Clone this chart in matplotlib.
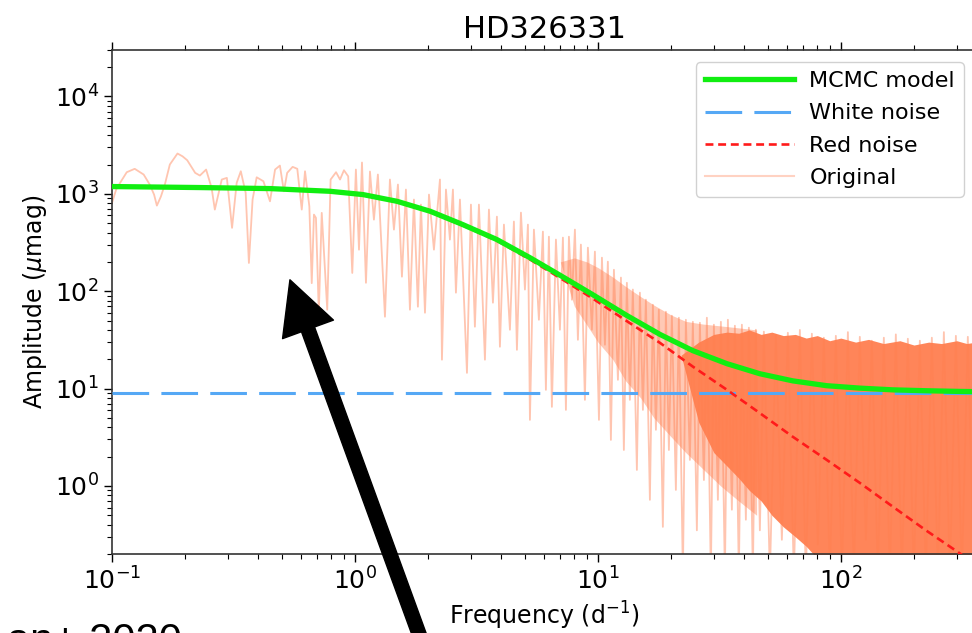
"""HD326331 振幅谱与红噪声拟合"""

import matplotlib
matplotlib.use("Agg")
from matplotlib import pyplot as plt

plt.rcParams['font.family'] = ['DejaVu Sans']
plt.rcParams['mathtext.fontset'] = 'dejavusans'

TITLE = "HD326331"
CREDIT = "an+ 2020"

# 原始振幅谱 (频率 d^-1, 振幅 μmag)，从图上读取的峰和谷
orig_freq = [
    0.100, 0.104, 0.108, 0.115, 0.124, 0.135, 0.143, 0.149, 0.153, 0.159,
    0.165, 0.173, 0.186, 0.195, 0.204, 0.220, 0.230, 0.244, 0.257, 0.265,
    0.283, 0.297, 0.312, 0.326, 0.339, 0.355, 0.366, 0.379, 0.394, 0.420,
    0.447, 0.469, 0.491, 0.510, 0.526, 0.554, 0.579, 0.604, 0.623, 0.649,
    0.664, 0.678, 0.691, 0.710, 0.730, 0.769, 0.794, 0.836, 0.868, 0.901,
    0.938, 0.975, 1.009,
    1.039, 1.069, 1.110, 1.153, 1.197, 1.243, 1.329, 1.393, 1.447, 1.503,
    1.561, 1.621, 1.684, 1.749, 1.816, 1.869, 1.942, 2.017, 2.114, 2.238,
    2.281, 2.369, 2.460, 2.531, 2.604, 2.705, 2.891, 3.002, 3.117, 3.238,
    3.428, 3.560, 3.698, 3.840, 3.951, 4.104, 4.344, 4.511, 4.642, 4.822,
    5.008, 5.152, 5.251, 5.453, 5.717, 5.938, 6.109, 6.285, 6.466, 6.718,
    6.978, 7.178, 7.385, 7.598, 7.816, 8.042, 8.274, 8.511, 8.842, 9.095,
    9.448, 9.720, 10.10, 10.39, 10.69, 10.99, 11.31, 11.64, 12.09, 12.44,
    12.79, 13.16, 13.54, 13.93, 14.47, 14.89, 15.32, 15.76, 16.37, 16.84,
    17.33, 17.82, 18.51, 19.05, 19.60, 20.16, 20.94, 21.54, 22.38, 23.02,
    23.91, 24.60, 25.55, 26.29, 27.31, 28.09, 29.17, 30.02, 31.18, 32.08,
    33.32, 34.28, 35.60, 36.63, 38.04, 39.14, 40.65, 41.82, 43.44, 44.69,
    46.42, 48.21, 51.04, 54.02, 57.18, 60.52, 64.07, 67.81, 71.78, 75.98,
    80.40, 85.11, 90.09, 95.37, 101.0, 106.9, 113.1, 119.7, 126.8, 134.1,
    142.0, 150.3, 159.1, 168.4, 178.3, 188.7, 199.7, 211.4, 223.8, 236.9,
    250.8, 265.5, 281.0, 297.5, 314.8, 333.2, 352.7, 360.0,
]
orig_amp = [
    807, 1106, 1298, 1667, 1807, 1578, 1245, 982, 757, 940,
    1245, 2000, 2594, 2430, 2213, 1641, 1541, 1775, 1151, 689,
    1402, 1458, 447, 1298, 1706, 1023, 195, 873, 1479, 1346,
    838, 1775, 1950, 1062, 1641, 1892, 1807, 689, 1706, 745,
    121, 612, 566, 59.7, 637, 64.6, 1402, 1667, 1402, 1746,
    1514, 154, 1775,
    267, 2096, 122, 1694, 543, 1578, 54.7, 1402, 429, 1245,
    141, 1106, 64.6, 873, 69.3, 775, 60.1, 982, 267, 1402,
    19.8, 1106, 339, 1106, 96.6, 873, 14.5, 775, 43.2, 775,
    19.8, 689, 76.2, 583, 26.9, 483, 40.2, 519, 25.0, 641,
    104, 483, 4.77, 429, 50.9, 409, 9.7, 363, 6.49, 339,
    40.2, 355, 6.04, 363, 81.8, 429, 31.7, 301, 7.66, 280,
    40.2, 255, 4.77, 221, 28.2, 201, 2.97, 166, 12.3, 138,
    2.34, 122, 7.66, 104, 1.46, 96.6, 6.04, 81.8, 0.72, 72.6,
    3.77, 64.6, 0.38, 61.5, 2.34, 56.0, 0.91, 53.4, 0.12, 50.9,
    1.85, 48.5, 0.35, 47.4, 1.15, 53.4, 0.12, 45.3, 0.72, 48.5,
    0.12, 50.9, 0.57, 44.2, 0.12, 45.3, 0.45, 42.2, 0.12, 40.2,
    0.35, 38.4, 0.12, 35.7, 0.28, 37.4, 0.12, 40.0, 0.12, 36.6,
    0.25, 33.3, 0.12, 34.8, 0.12, 38.0, 0.12, 34.0, 0.28, 31.0,
    0.12, 33.3, 0.12, 36.0, 0.12, 32.5, 0.12, 31.0, 0.12, 33.3,
    0.12, 38.0, 0.12, 34.8, 0.12, 34.0, 0.12, 33.3,
]

# 谱线密集、连成一片的部分：半透明区和实心区的上下包络
mid_freq = [7.0, 8.0, 9.0, 10.0, 11.5, 13.0, 15.0, 17.0, 20.0,
            23.0, 27.0, 32.0, 38.0, 45.0]
mid_top = [200, 220, 200, 175, 140, 112, 88, 72, 57,
           49, 46, 44, 42, 40]
mid_bot = [200, 70, 45, 30, 20, 12, 8.0, 5.0, 3.2,
           2.2, 1.5, 1.0, 0.7, 0.5]
dense_freq = [22, 26, 30, 34, 38, 42, 47, 52, 58, 65,
              72, 80, 90, 100, 115, 130, 150, 175, 200, 230,
              260, 300, 330, 360]
dense_top = [22, 30, 36, 38, 37, 40, 36, 38, 35, 36,
             33, 35, 31, 33, 30, 32, 29, 31, 28, 30,
             29, 31, 29, 30]
dense_bot = [22, 4.5, 2.2, 1.6, 1.2, 0.9, 0.7, 0.5, 0.38, 0.3,
             0.24, 0.18, 0.12, 0.1, 0.1, 0.1, 0.1, 0.1, 0.1, 0.1,
             0.1, 0.1, 0.1, 0.1]

# MCMC 模型曲线
model_freq = [0.10, 0.23, 0.447, 0.789, 1.08, 1.49, 2.04, 2.78, 3.84, 5.25,
              7.18, 9.53, 13.2, 18.0, 24.6, 34.0, 46.4, 63.4, 87.5, 120,
              164, 224, 307, 360]
model_amp = [1188, 1160, 1132, 1062, 982, 838, 662, 483, 339, 221,
             140, 92, 56, 36, 24.5, 18.0, 14.2, 12.0, 10.7, 10.1,
             9.7, 9.5, 9.35, 9.3]

# 红噪声
red_freq = model_freq
red_amp = [1180, 1150, 1122, 1052, 972, 828, 652, 473, 330, 212,
           131, 84, 49, 29.5, 16.8, 9.7, 5.6, 3.2, 1.85, 1.07,
           0.61, 0.35, 0.205, 0.155]

# 白噪声水平
white_level = 9.0

CORAL = '#FF7F50'

fig = plt.figure(figsize=(9.72, 6.33), dpi=100)
ax = fig.add_axes([112 / 972, 79 / 633, 864 / 972, 504 / 633])

ax.fill_between(mid_freq, mid_bot, mid_top, color=CORAL, alpha=0.42, lw=0, zorder=1)
ax.fill_between(dense_freq, dense_bot, dense_top, color=CORAL, alpha=0.95, lw=0, zorder=1)
ax.plot(orig_freq, orig_amp, color=CORAL, lw=1.3, alpha=0.45, zorder=2)

l_white = ax.axhline(white_level, color='#55A8F5', lw=2.2, dashes=(12, 4), zorder=3)
l_red, = ax.plot(red_freq, red_amp, color='#FF1A1A', lw=1.9, dashes=(3, 1.8), zorder=3)
l_model, = ax.plot(model_freq, model_amp, color='#11EE11', lw=3.8, zorder=4)
l_orig, = ax.plot([], [], color=CORAL, lw=1.5, alpha=0.35)

ax.set_xscale('log')
ax.set_yscale('log')
ax.set_xlim(0.1, 360)
ax.set_ylim(0.2, 3e4)

ax.set_title(TITLE, fontsize=22, pad=9)
ax.set_xlabel(r"Frequency (d$^{-1}$)", fontsize=17)
ax.set_ylabel(r"Amplitude ($\mu$mag)", fontsize=17)

ax.tick_params(which='both', direction='out', top=True, right=True, labelsize=18)
ax.tick_params(which='major', length=6, width=1)
ax.tick_params(which='minor', length=3.5, width=0.8)
for sp in ax.spines.values():
    sp.set_linewidth(1.2)
    sp.set_color('#333333')

ax.legend([l_model, l_white, l_red, l_orig],
          ["MCMC model", "White noise", "Red noise", "Original"],
          loc='upper right', fontsize=16, handlelength=4.0,
          handletextpad=0.7, labelspacing=0.55, framealpha=0.9,
          edgecolor='0.8', borderaxespad=0.55)

# 箭头标注
ax.annotate('', xy=(0.54, 131), xytext=(2.1, 0.012),
            xycoords='data', textcoords='data', annotation_clip=False,
            arrowprops=dict(arrowstyle='simple,head_width=3.9,head_length=3.8,tail_width=1.0',
                            mutation_scale=10, color='black', shrinkA=0, shrinkB=0),
            zorder=6)

fig.text(182 / 972, -20 / 633, CREDIT, ha='right', va='baseline',
         fontsize=30, family=['Liberation Sans', 'DejaVu Sans'])

fig.savefig('out.png', dpi=100)
